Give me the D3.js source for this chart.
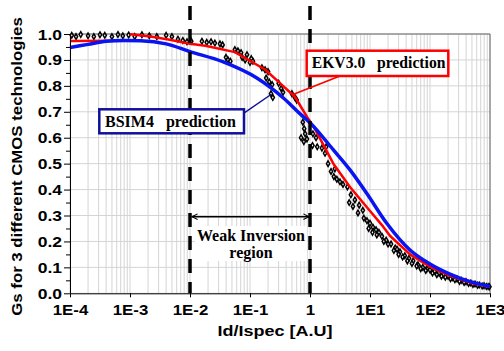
<!DOCTYPE html>
<html>
<head>
<meta charset="utf-8">
<script src="https://cdn.jsdelivr.net/npm/d3@7"></script>
<style>
body { margin: 0; background: #fff; }
svg { display: block; }
text { font-family: "Liberation Sans", Arial, sans-serif; font-weight: bold; fill: #000; }
.serif { font-family: "Liberation Serif", "Times New Roman", serif; }
</style>
</head>
<body>
<svg id="chart" width="504" height="351"></svg>
<script>
// axis ticks
var icTicks = [1e-4, 1e-3, 1e-2, 1e-1, 1, 1e1, 1e2, 1e3];
var icLabels = ["1E-4", "1E-3", "1E-2", "1E-1", "1", "1E1", "1E2", "1E3"];
var gsTicks = [0, 0.1, 0.2, 0.3, 0.4, 0.5, 0.6, 0.7, 0.8, 0.9, 1.0];
var gsLabels = ["0.0", "0.1", "0.2", "0.3", "0.4", "0.5", "0.6", "0.7", "0.8", "0.9", "1.0"];

// BSIM4 prediction (blue)
var bsimIc = [1e-4, 2e-4, 4e-4, 8e-4, 1.5e-3, 4e-3, 1e-2, 3.5e-2, 0.13, 0.36, 0.7, 1.0, 2.45, 4.64, 8.8, 19, 46.4, 100, 215, 464, 1000];
var bsimGs = [0.948, 0.96, 0.972, 0.975, 0.974, 0.962, 0.932, 0.893, 0.83, 0.753, 0.69, 0.658, 0.553, 0.476, 0.386, 0.27, 0.167, 0.113, 0.074, 0.045, 0.026];

// EKV3.0 prediction (red), plus the short low branch at the left
var ekvIc = [1.0e-3, 2.2e-3, 4.6e-3, 1.0e-2, 1.8e-2, 5.6e-2, 0.178, 0.34, 0.56, 0.94, 1.2, 2.45, 4.64, 8.8, 16.6, 21.5, 46.4, 100, 215, 464, 1000];
var ekvGs = [0.999, 0.99, 0.978, 0.962, 0.955, 0.93, 0.863, 0.804, 0.758, 0.672, 0.635, 0.5, 0.41, 0.333, 0.257, 0.222, 0.15, 0.103, 0.067, 0.041, 0.024];
var ekvLowIc = [1e-4, 5e-4, 1.2e-3];
var ekvLowGs = [0.973, 0.974, 0.975];

// measured points, 3 technologies
var measIc = [1.07e-4, 1.26e-4, 1.51e-4, 2.0e-4, 2.5e-4, 3.16e-4, 3.8e-4, 5.0e-4, 6.3e-4, 7.6e-4, 9.5e-4, 1.2e-3, 1.58e-3, 2.1e-3, 2.8e-3, 4.0e-3, 5.0e-3, 6.3e-3, 7.6e-3, 8.9e-3, 1.05e-2,
  1.58e-2, 1.9e-2, 2.24e-2, 2.6e-2, 3.16e-2, 3.5e-2, 3.98e-2, 4.3e-2, 4.7e-2, 5.6e-2, 6.3e-2, 7.1e-2,
  7.4e-2, 8.3e-2, 8.9e-2, 0.1, 0.105, 0.112, 0.158, 0.178, 0.2, 0.186, 0.209, 0.234, 0.224, 0.24,
  0.3, 0.33, 0.355, 0.5, 0.56, 0.6, 0.76, 0.8, 0.83, 0.71, 0.79, 0.89, 1.12, 1.26,
  1.1, 1.32, 1.58, 1.86, 1.78, 2.0, 2.24, 2.5, 2.8, 3.16, 3.55, 2.6,
  4.2, 4.8, 5.6, 6.6, 7.6, 4.5, 5.2, 6.3, 7.9, 8.9, 10, 11.2, 12.6,
  14.1, 15.8, 18.6, 22.4, 26.3, 28.2, 31.6, 38, 44.7, 52.5, 63, 76, 89, 100,
  120, 141, 166, 200, 240, 282, 331, 398, 479, 562, 661, 794, 933,
  9.5, 11, 13, 17, 20, 25, 30, 35, 42, 50, 60, 70, 85, 110, 130, 155, 180, 220, 260, 310, 370, 440, 520, 620, 740, 870, 980];
var measGs = [0.995, 0.99, 0.998, 0.993, 0.99, 0.997, 0.995, 0.99, 0.998, 0.993, 0.996, 0.99, 0.997, 0.993, 0.99, 0.995, 0.99, 0.98, 0.975, 0.97, 0.972,
  0.972, 0.968, 0.97, 0.965, 0.962, 0.958, 0.91, 0.9, 0.895, 0.94, 0.935, 0.928,
  0.91, 0.9, 0.92, 0.89, 0.905, 0.895, 0.87, 0.862, 0.855, 0.83, 0.815, 0.805, 0.77, 0.755,
  0.81, 0.79, 0.775, 0.77, 0.755, 0.745, 0.66, 0.635, 0.615, 0.6, 0.585, 0.595, 0.615, 0.6,
  0.57, 0.565, 0.56, 0.565, 0.54, 0.5, 0.47, 0.45, 0.44, 0.43, 0.42, 0.48,
  0.41, 0.38, 0.36, 0.34, 0.32, 0.35, 0.335, 0.31, 0.29, 0.28, 0.27, 0.255, 0.245,
  0.235, 0.22, 0.205, 0.19, 0.175, 0.17, 0.16, 0.145, 0.135, 0.125, 0.11, 0.1, 0.095, 0.09,
  0.085, 0.078, 0.072, 0.066, 0.06, 0.055, 0.05, 0.045, 0.04, 0.036, 0.032, 0.029, 0.026,
  0.25, 0.235, 0.225, 0.2, 0.19, 0.165, 0.15, 0.14, 0.125, 0.115, 0.105, 0.095, 0.088, 0.078, 0.072, 0.066, 0.062, 0.056, 0.052, 0.046, 0.042, 0.038, 0.034, 0.031, 0.028, 0.026, 0.025];

var svg = d3.select("#chart");
var plotLeft = 70, plotRight = 490, plotTop = 34, plotBottom = 293.3;

var x = d3.scaleLog().domain([1e-4, 1e3]).range([plotLeft, plotRight]);
var y = d3.scaleLinear().domain([0, 1]).range([plotBottom, plotTop]);

// grid
svg.append("g").selectAll("line").data(x.ticks()).enter().append("line")
  .attr("x1", function(d) { return x(d); }).attr("x2", function(d) { return x(d); })
  .attr("y1", plotTop).attr("y2", plotBottom)
  .attr("stroke", "#d4d4d4").attr("stroke-width", 1);
svg.append("g").selectAll("line").data(gsTicks).enter().append("line")
  .attr("x1", plotLeft).attr("x2", plotRight)
  .attr("y1", function(d) { return y(d); }).attr("y2", function(d) { return y(d); })
  .attr("stroke", "#d4d4d4").attr("stroke-width", 1);

// frame top / right
svg.append("path")
  .attr("d", "M" + plotLeft + "," + plotTop + "H" + plotRight + "V" + plotBottom)
  .attr("fill", "none").attr("stroke", "#666").attr("stroke-width", 1);

// white patch behind the region label
svg.append("rect").attr("x", x(1e-2) + 5).attr("y", 226).attr("width", x(1) - x(1e-2) - 8).attr("height", 35).attr("fill", "#fff");

// measured points
svg.append("g").selectAll("path").data(measIc).enter().append("path")
  .attr("d", d3.symbol().type(d3.symbolDiamond).size(9))
  .attr("transform", function(d, i) { return "translate(" + x(d) + "," + y(measGs[i]) + ")"; })
  .attr("fill", "#fff").attr("stroke", "#000").attr("stroke-width", 1.5);

var line = d3.line()
  .x(function(d) { return x(d[0]); })
  .y(function(d) { return y(d[1]); });

svg.append("path").datum(d3.zip(ekvLowIc, ekvLowGs))
  .attr("d", line).attr("fill", "none").attr("stroke", "#f00").attr("stroke-width", 2.5);
svg.append("path").datum(d3.zip(ekvIc, ekvGs))
  .attr("d", line).attr("fill", "none").attr("stroke", "#f00").attr("stroke-width", 2.5)
  .attr("stroke-linejoin", "round");
svg.append("path").datum(d3.zip(bsimIc, bsimGs))
  .attr("d", line.curve(d3.curveMonotoneX)).attr("fill", "none").attr("stroke", "#0a14f0").attr("stroke-width", 3.5);

// axes
var yAxis = svg.append("g").attr("transform", "translate(" + plotLeft + ",0)")
  .call(d3.axisLeft(y).tickValues(gsTicks).tickFormat(function(d, i) { return gsLabels[i]; }).tickSize(6).tickSizeOuter(0));
yAxis.select(".domain").attr("stroke", "#000");
yAxis.selectAll("text").attr("x", null).attr("dy", "0.36em")
  .attr("transform", "translate(-8,0) scale(1.25,1)")
  .style("font-size", "14px").style("font-family", "'Liberation Sans', Arial, sans-serif").style("font-weight", "bold");
svg.append("g").attr("transform", "translate(" + plotLeft + ",0)")
  .call(d3.axisLeft(y).tickValues(d3.range(0.05, 1, 0.1)).tickFormat("").tickSize(4).tickSizeOuter(0))
  .select(".domain").remove();

var xAxis = svg.append("g").attr("transform", "translate(0," + plotBottom + ")")
  .call(d3.axisBottom(x).tickValues(icTicks).tickFormat(function(d, i) { return icLabels[i]; }).tickSize(4).tickSizeOuter(0));
xAxis.select(".domain").attr("stroke", "#000");
xAxis.selectAll("text").attr("y", null).attr("dy", null)
  .attr("transform", "translate(0,21.7) scale(1.2,1)")
  .style("font-size", "14px").style("font-family", "'Liberation Sans', Arial, sans-serif").style("font-weight", "bold");

// axis titles
svg.append("text").attr("transform", "translate(21.5,166.5) rotate(-90) scale(1.2,1)")
  .attr("text-anchor", "middle").style("font-size", "14px")
  .text("Gs for 3 different CMOS technologies");
svg.append("text").attr("transform", "translate(275,336) scale(1.2,1)")
  .attr("text-anchor", "middle").style("font-size", "15px")
  .text("Id/Ispec [A.U]");

// weak inversion boundaries
[1e-2, 1].forEach(function(v) {
  svg.append("line").attr("x1", x(v)).attr("x2", x(v)).attr("y1", 6).attr("y2", plotBottom)
    .attr("stroke", "#000").attr("stroke-width", 3.5).attr("stroke-dasharray", "14,9");
});

var defs = svg.append("defs");
defs.append("marker").attr("id", "arr").attr("viewBox", "0 0 10 10")
  .attr("refX", 9).attr("refY", 5).attr("markerWidth", 7).attr("markerHeight", 7)
  .attr("markerUnits", "userSpaceOnUse").attr("orient", "auto-start-reverse")
  .append("path").attr("d", "M1,1 L9,5 L1,9").attr("fill", "none").attr("stroke", "#000").attr("stroke-width", 1.5);

svg.append("line").attr("x1", x(1e-2) + 2).attr("x2", x(1) - 1).attr("y1", 216.7).attr("y2", 216.7)
  .attr("stroke", "#000").attr("stroke-width", 1.4)
  .attr("marker-start", "url(#arr)").attr("marker-end", "url(#arr)");

svg.append("text").attr("class", "serif").attr("x", 251).attr("y", 240.7)
  .attr("text-anchor", "middle").style("font-size", "16px").text("Weak Inversion");
svg.append("text").attr("class", "serif").attr("x", 251).attr("y", 258)
  .attr("text-anchor", "middle").style("font-size", "16px").text("region");

// callouts
svg.append("line").attr("x1", 241.7).attr("y1", 114.7).attr("x2", 271).attr("y2", 94.5)
  .attr("stroke", "#10109a").attr("stroke-width", 1.5);
svg.append("rect").attr("x", 99.3).attr("y", 109.3).attr("width", 144.7).attr("height", 24)
  .attr("fill", "#fff").attr("stroke", "#10109a").attr("stroke-width", 2.5);
svg.append("text").attr("class", "serif").attr("x", 105).attr("y", 127.3)
  .style("font-size", "16px").style("white-space", "pre").text("BSIM4   prediction");

svg.append("line").attr("x1", 340).attr("y1", 76).attr("x2", 291.7).attr("y2", 95)
  .attr("stroke", "#f00").attr("stroke-width", 1.8);
svg.append("rect").attr("x", 306.7).attr("y", 50.7).attr("width", 141.6).attr("height", 25.3)
  .attr("fill", "#fff").attr("stroke", "#f00").attr("stroke-width", 2.5);
svg.append("text").attr("class", "serif").attr("transform", "translate(311.7,68.3) scale(0.98,1)")
  .style("font-size", "16px").style("white-space", "pre").text("EKV3.0   prediction");
</script>
</body>
</html>
